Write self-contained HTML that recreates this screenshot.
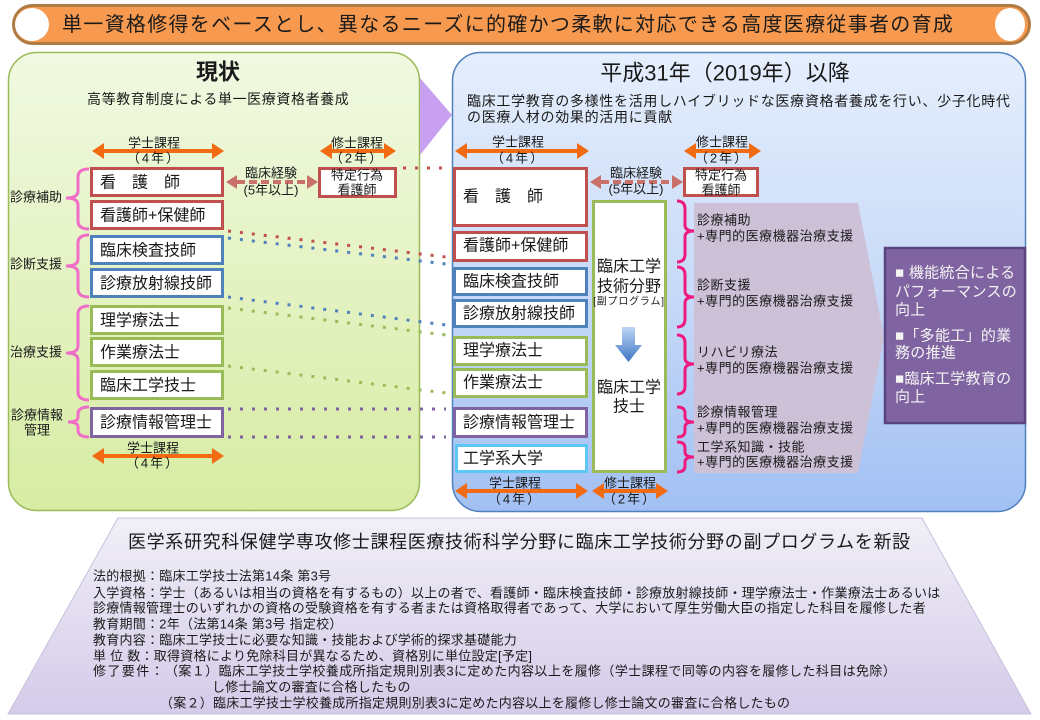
<!DOCTYPE html>
<html><head><meta charset="utf-8">
<style>
html,body{margin:0;padding:0;background:#fff;}
svg{display:block;}
text{font-family:"Liberation Sans","Noto Sans CJK JP",sans-serif;fill:#1a1a1a;dominant-baseline:central;}
</style></head>
<body>
<svg width="1040" height="720" viewBox="0 0 1040 720" xmlns="http://www.w3.org/2000/svg">
<defs>
<linearGradient id="gL" x1="0" y1="0" x2="0" y2="1"><stop offset="0" stop-color="#f1f9e2"/><stop offset="1" stop-color="#d7eca3"/></linearGradient>
<linearGradient id="gR" x1="0" y1="0" x2="0" y2="1"><stop offset="0" stop-color="#e5eefc"/><stop offset="0.5" stop-color="#c9dbf8"/><stop offset="1" stop-color="#a2c0f3"/></linearGradient>
<linearGradient id="gB" x1="0" y1="0" x2="0" y2="1"><stop offset="0" stop-color="#f1eff7"/><stop offset="1" stop-color="#d4cbe9"/></linearGradient>
<linearGradient id="gA" x1="0" y1="0" x2="0" y2="1"><stop offset="0" stop-color="#bcd5f4"/><stop offset="1" stop-color="#3f76c4"/></linearGradient>
</defs>

<!-- Banner -->
<rect x="13.5" y="5.5" width="1016" height="38" rx="19" fill="#f79a4f" stroke="#b07a45" stroke-width="3"/>
<ellipse cx="32" cy="24.5" rx="17" ry="16.5" fill="#fff"/>
<ellipse cx="1010" cy="24.5" rx="15" ry="16.5" fill="#fff"/>
<text x="62" y="25" font-size="20" letter-spacing="1.3">単一資格修得をベースとし、異なるニーズに的確かつ柔軟に対応できる高度医療従事者の育成</text>

<!-- Panels -->
<rect x="8.5" y="52.5" width="411" height="458" rx="28" fill="url(#gL)" stroke="#9bbb59" stroke-width="1.5"/>
<polygon points="420,78 452,115 420,155" fill="#c9a0ef"/>
<rect x="452.5" y="52.5" width="573" height="459" rx="28" fill="url(#gR)" stroke="#4f81bd" stroke-width="1.5"/>

<!-- Left titles -->
<text x="218" y="72" font-size="22" font-weight="bold" text-anchor="middle">現状</text>
<text x="87" y="99" font-size="14" letter-spacing="0.6">高等教育制度による単一医療資格者養成</text>

<!-- Right titles -->
<text x="725" y="73" font-size="22" text-anchor="middle">平成31年（2019年）以降</text>
<text x="467" y="101" font-size="14" letter-spacing="0.7">臨床工学教育の多様性を活用しハイブリッドな医療資格者養成を行い、少子化時代</text>
<text x="467" y="117" font-size="14" letter-spacing="0.7">の医療人材の効果的活用に貢献</text>

<!-- Orange arrows -->
<g fill="#f26b12" stroke="none">
  <rect x="100" y="149" width="115" height="4"/>
  <polygon points="92,151 104,143 104,159"/><polygon points="224,151 212,143 212,159"/>
  <rect x="328" y="149" width="59" height="4"/>
  <polygon points="320,151 332,143 332,159"/><polygon points="396,151 384,143 384,159"/>
  <rect x="100" y="454" width="115" height="4"/>
  <polygon points="92,456 104,448 104,464"/><polygon points="224,456 212,448 212,464"/>
  <rect x="463" y="149" width="117" height="4"/>
  <polygon points="455,151 467,143 467,159"/><polygon points="589,151 577,143 577,159"/>
  <rect x="692" y="149" width="60" height="4"/>
  <polygon points="684,151 696,143 696,159"/><polygon points="761,151 749,143 749,159"/>
  <rect x="463" y="489" width="116" height="4"/>
  <polygon points="455,491 467,483 467,499"/><polygon points="588,491 576,483 576,499"/>
  <rect x="600" y="489" width="59" height="4"/>
  <polygon points="592,491 604,483 604,499"/><polygon points="668,491 656,483 656,499"/>
</g>
<g font-size="13" text-anchor="middle">
  <text x="154" y="143">学士課程</text><text x="154" y="158" letter-spacing="2">（4年）</text>
  <text x="357" y="143">修士課程</text><text x="357" y="158" letter-spacing="2">（2年）</text>
  <text x="153" y="448">学士課程</text><text x="153" y="463" letter-spacing="2">（4年）</text>
  <text x="518" y="142">学士課程</text><text x="518" y="158" letter-spacing="2">（4年）</text>
  <text x="722" y="142">修士課程</text><text x="722" y="158" letter-spacing="2">（2年）</text>
  <text x="515" y="483">学士課程</text><text x="515" y="499" letter-spacing="2">（4年）</text>
  <text x="630" y="483">修士課程</text><text x="630" y="499" letter-spacing="2">（2年）</text>
</g>

<!-- Dotted connectors -->
<g stroke-width="3" stroke-dasharray="3 9" fill="none">
  <line x1="228" y1="231" x2="446" y2="257" stroke="#c0504d"/>
  <line x1="403" y1="168" x2="448" y2="168" stroke="#c0504d"/>
  <line x1="228" y1="238" x2="446" y2="264" stroke="#4f81bd"/>
  <line x1="228" y1="297" x2="446" y2="325" stroke="#4f81bd"/>
  <line x1="228" y1="308" x2="446" y2="335" stroke="#9bbb59"/>
  <line x1="228" y1="366" x2="446" y2="393" stroke="#9bbb59"/>
  <line x1="228" y1="409" x2="446" y2="409" stroke="#8064a2"/>
  <line x1="228" y1="437" x2="446" y2="437" stroke="#8064a2"/>
</g>

<!-- Left brackets -->
<g stroke="#f06ec8" stroke-width="3" fill="none">
  <path d="M89,169 Q78,169 78,177 L78,191 Q78,198 66,198 Q78,198 78,205 L78,221 Q78,229 89,229"/>
  <path d="M89,235 Q78,235 78,243 L78,259 Q78,266 66,266 Q78,266 78,273 L78,289 Q78,297 89,297"/>
  <path d="M89,306 Q78,306 78,314 L78,346 Q78,353 66,353 Q78,353 78,360 L78,392 Q78,400 89,400"/>
  <path d="M89,407 Q78,407 78,414 L78,417 Q78,422 68,422 Q78,422 78,427 L78,430 Q78,437 89,437"/>
</g>
<g font-size="13">
  <text x="10" y="197">診療補助</text>
  <text x="10" y="264">診断支援</text>
  <text x="10" y="352">治療支援</text>
  <text x="11" y="415">診療情報</text>
  <text x="37" y="430" text-anchor="middle">管理</text>
</g>

<!-- Left boxes -->
<g fill="#fff" stroke-width="3">
  <rect x="91.5" y="168.5" width="131" height="27" stroke="#c0504d"/>
  <rect x="91.5" y="201.5" width="131" height="27" stroke="#c0504d"/>
  <rect x="91.5" y="236.5" width="131" height="27" stroke="#4f81bd"/>
  <rect x="91.5" y="269.5" width="131" height="27" stroke="#4f81bd"/>
  <rect x="91.5" y="306.5" width="131" height="27" stroke="#9bbb59"/>
  <rect x="91.5" y="338.5" width="131" height="27" stroke="#9bbb59"/>
  <rect x="91.5" y="371.5" width="131" height="27" stroke="#9bbb59"/>
  <rect x="91.5" y="408.5" width="131" height="28" stroke="#8064a2"/>
  <rect x="319.5" y="168.5" width="76" height="28" stroke="#c0504d"/>
</g>
<g font-size="16">
  <text x="100" y="183">看　護　師</text>
  <text x="100" y="216">看護師+保健師</text>
  <text x="100" y="251">臨床検査技師</text>
  <text x="100" y="284">診療放射線技師</text>
  <text x="100" y="321">理学療法士</text>
  <text x="100" y="353">作業療法士</text>
  <text x="100" y="386">臨床工学技士</text>
  <text x="100" y="423">診療情報管理士</text>
</g>
<g font-size="13" text-anchor="middle">
  <text x="357" y="175">特定行為</text>
  <text x="357" y="190">看護師</text>
</g>

<!-- Dashed arrows -->
<g fill="#c9706b">
  <polygon points="226,182 237,175 237,189"/><polygon points="318,182 307,175 307,189"/>
  <polygon points="590,182 601,175 601,189"/><polygon points="683,182 672,175 672,189"/>
</g>
<g stroke="#c9706b" stroke-width="4" stroke-dasharray="8 4" fill="none">
  <line x1="237" y1="182" x2="307" y2="182"/>
  <line x1="601" y1="182" x2="672" y2="182"/>
</g>
<g font-size="13" text-anchor="middle">
  <text x="271" y="173">臨床経験</text>
  <text x="271" y="190">(5年以上)</text>
  <text x="636" y="173">臨床経験</text>
  <text x="636" y="189">(5年以上)</text>
</g>

<!-- Right boxes -->
<g fill="#fff" stroke-width="3">
  <rect x="454.5" y="168.5" width="132" height="57" stroke="#c0504d"/>
  <rect x="454.5" y="232.5" width="132" height="28" stroke="#c0504d"/>
  <rect x="454.5" y="268.5" width="132" height="26" stroke="#4f81bd"/>
  <rect x="454.5" y="300.5" width="132" height="26" stroke="#4f81bd"/>
  <rect x="454.5" y="337.5" width="132" height="27" stroke="#9bbb59"/>
  <rect x="454.5" y="369.5" width="132" height="27" stroke="#9bbb59"/>
  <rect x="454.5" y="408.5" width="132" height="28" stroke="#8064a2"/>
  <rect x="456.5" y="445.5" width="130" height="26" stroke="#5bc8f5"/>
  <rect x="684.5" y="168.5" width="73" height="27" stroke="#c0504d"/>
  <rect x="593.5" y="201.5" width="72" height="270" stroke="#9bbb59"/>
</g>
<g font-size="16">
  <text x="463" y="197">看　護　師</text>
  <text x="463" y="246">看護師+保健師</text>
  <text x="463" y="282">臨床検査技師</text>
  <text x="463" y="314">診療放射線技師</text>
  <text x="463" y="351">理学療法士</text>
  <text x="463" y="383">作業療法士</text>
  <text x="463" y="423">診療情報管理士</text>
  <text x="463" y="459">工学系大学</text>
</g>
<g font-size="13" text-anchor="middle">
  <text x="721" y="175">特定行為</text>
  <text x="721" y="190">看護師</text>
</g>

<!-- Center column text -->
<g font-size="16" text-anchor="middle">
  <text x="629" y="267">臨床工学</text>
  <text x="629" y="287">技術分野</text>
  <text x="629" y="388">臨床工学</text>
  <text x="629" y="407">技士</text>
</g>
<text x="629" y="302" font-size="10" text-anchor="middle" letter-spacing="0.8">[副プログラム]</text>
<polygon points="622,327 635,327 635,345 642,345 628.5,362 615,345 622,345" fill="url(#gA)"/>

<!-- Grey pentagon -->
<polygon points="694,203 858,203 884,337 858,473 694,473" fill="#cdc1d8"/>

<!-- Right brackets -->
<g stroke="#ee1a7e" stroke-width="3" fill="none">
  <path d="M677,201 Q685,201 685,209 L685,225 Q685,231 694,231 Q685,231 685,237 L685,254 Q685,262 677,262"/>
  <path d="M677,267 Q685,267 685,275 L685,291 Q685,297 694,297 Q685,297 685,303 L685,319 Q685,327 677,327"/>
  <path d="M677,335 Q685,335 685,343 L685,358 Q685,364 694,364 Q685,364 685,370 L685,386 Q685,394 677,394"/>
  <path d="M677,407 Q685,407 685,413 L685,417 Q685,422 694,422 Q685,422 685,427 L685,431 Q685,437 677,437"/>
  <path d="M677,442 Q685,442 685,448 L685,452 Q685,457 694,457 Q685,457 685,462 L685,466 Q685,472 677,472"/>
</g>
<g font-size="13" letter-spacing="0.5">
  <text x="697" y="220">診療補助</text>
  <text x="697" y="236">+専門的医療機器治療支援</text>
  <text x="697" y="285">診断支援</text>
  <text x="697" y="301">+専門的医療機器治療支援</text>
  <text x="697" y="352">リハビリ療法</text>
  <text x="697" y="368">+専門的医療機器治療支援</text>
  <text x="697" y="412">診療情報管理</text>
  <text x="697" y="428">+専門的医療機器治療支援</text>
  <text x="697" y="447">工学系知識・技能</text>
  <text x="697" y="462">+専門的医療機器治療支援</text>
</g>

<!-- Purple result box -->
<rect x="885" y="248" width="140" height="175" fill="#8064a2" stroke="#5a4480" stroke-width="2.5"/>
<g font-size="15" letter-spacing="0.3">
  <text x="895" y="273" style="fill:#f4f4f4">■ 機能統合による</text>
  <text x="895" y="292" style="fill:#f4f4f4">パフォーマンスの</text>
  <text x="895" y="310" style="fill:#f4f4f4">向上</text>
  <text x="895" y="336" style="fill:#f4f4f4">■「多能工」的業</text>
  <text x="895" y="353" style="fill:#f4f4f4">務の推進</text>
  <text x="895" y="379" style="fill:#f4f4f4">■臨床工学教育の</text>
  <text x="895" y="397" style="fill:#f4f4f4">向上</text>
</g>

<!-- Bottom trapezoid -->
<polygon points="118,518 922,518 1031,714 8,714" fill="url(#gB)" stroke="#c8c0dc" stroke-width="1"/>
<text x="128" y="542" font-size="18" letter-spacing="0.65">医学系研究科保健学専攻修士課程医療技術科学分野に臨床工学技術分野の副プログラムを新設</text>
<g font-size="13" letter-spacing="0.25">
  <text x="93" y="576">法的根拠：臨床工学技士法第14条 第3号</text>
  <text x="93" y="593">入学資格：学士（あるいは相当の資格を有するもの）以上の者で、看護師・臨床検査技師・診療放射線技師・理学療法士・作業療法士あるいは</text>
  <text x="93" y="608">診療情報管理士のいずれかの資格の受験資格を有する者または資格取得者であって、大学において厚生労働大臣の指定した科目を履修した者</text>
  <text x="93" y="624">教育期間：2年（法第14条 第3号 指定校）</text>
  <text x="93" y="640">教育内容：臨床工学技士に必要な知識・技能および学術的探求基礎能力</text>
  <text x="93" y="656">単 位 数：取得資格により免除科目が異なるため、資格別に単位設定[予定]</text>
  <text x="93" y="671" letter-spacing="1.4">修了要件：</text>
  <text x="165" y="671" letter-spacing="0.4">（案１）臨床工学技士学校養成所指定規則別表3に定めた内容以上を履修（学士課程で同等の内容を履修した科目は免除）</text>
  <text x="212" y="687">し修士論文の審査に合格したもの</text>
  <text x="160" y="703">（案２）臨床工学技士学校養成所指定規則別表3に定めた内容以上を履修し修士論文の審査に合格したもの</text>
</g>
</svg>
</body></html>
